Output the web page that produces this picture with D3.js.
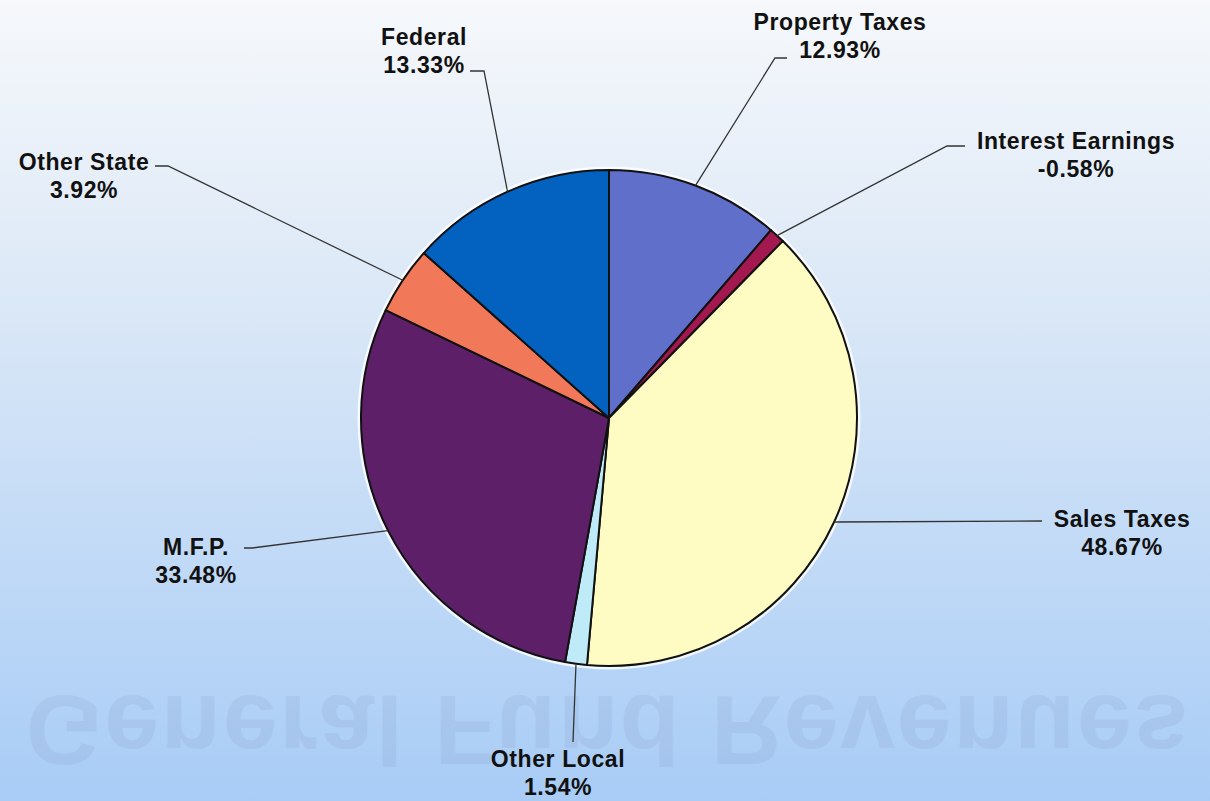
<!DOCTYPE html>
<html>
<head>
<meta charset="utf-8">
<script src="https://cdnjs.cloudflare.com/ajax/libs/d3/7.8.5/d3.min.js"></script>
<style>
  html, body { margin: 0; padding: 0; background: #dfe9f6; }
  #vis { width: 1210px; height: 801px; }
  text { font-family: "Liberation Sans", Arial, sans-serif; font-weight: bold; }
</style>
</head>
<body>
<div id="vis"></div>
<script>
// slice names, label percentages and slice shares (shares)
var categories = ['Property Taxes', 'Interest Earnings', 'Sales Taxes', 'Other Local', 'M.F.P.', 'Other State', 'Federal'];
var labelPercents = ['12.93%', '-0.58%', '48.67%', '1.54%', '33.48%', '3.92%', '13.33%'];
var shares = [11.33, 1.03, 39.06, 1.42, 29.33, 4.42, 13.42];
var colors = ['#5f6fca', '#a3194f', '#fefcc2', '#bfeaf8', '#5d1f68', '#f2785a', '#0361bf'];

// where each label sits
var labelLayout = [
    { x: 840, y: 30 },
    { x: 1076, y: 149 },
    { x: 1122, y: 527 },
    { x: 558, y: 767 },
    { x: 196, y: 555 },
    { x: 84, y: 170 },
    { x: 424, y: 45 }
];
// leader line end points near each label
var leaderEnds = [
    [[787, 58], [775, 58]],
    [[965, 146], [947, 146]],
    [[1042, 521], [1042, 521]],
    [[573, 742], [573, 742]],
    [[244, 548], [252, 548]],
    [[155, 166], [168, 166]],
    [[470, 71], [484, 71]]
];

var width = 1210, height = 801;
var cx = 609, cy = 418, radius = 248;

var svg = d3.select('#vis').append('svg')
    .attr('width', width)
    .attr('height', height);

// background gradient
var defs = svg.append('defs');
var grad = defs.append('linearGradient')
    .attr('id', 'bg')
    .attr('x1', 0).attr('y1', 0).attr('x2', 0).attr('y2', 1);
grad.append('stop').attr('offset', '0%').attr('stop-color', '#f6f8fb');
grad.append('stop').attr('offset', '35%').attr('stop-color', '#dde9f7');
grad.append('stop').attr('offset', '100%').attr('stop-color', '#a8ccf6');
svg.append('rect')
    .attr('width', width)
    .attr('height', height)
    .attr('fill', 'url(#bg)');

// faint bleed-through title, upside down
svg.append('text')
    .attr('transform', 'translate(608,696) scale(1,-1)')
    .attr('text-anchor', 'middle')
    .style('font-size', '98px')
    .style('letter-spacing', '2px')
    .attr('fill', '#8497c0')
    .attr('opacity', 0.16)
    .text('General Fund Revenues');

var pie = d3.pie().sort(null).value(function(d) { return d; });
var arcs = pie(shares);

var arc = d3.arc().innerRadius(0).outerRadius(radius);

var g = svg.append('g')
    .attr('transform', 'translate(' + cx + ',' + cy + ')');

// white halo round the pie
g.append('circle')
    .attr('r', radius + 2)
    .attr('fill', 'none')
    .attr('stroke', '#ffffff')
    .attr('stroke-width', 3)
    .attr('opacity', 0.8);

g.selectAll('path.slice')
    .data(arcs)
    .enter().append('path')
    .attr('class', 'slice')
    .attr('d', arc)
    .attr('fill', function(d, i) { return colors[i]; })
    .attr('stroke', '#111')
    .attr('stroke-width', 2)
    .attr('stroke-linejoin', 'round');

// leader lines
arcs.forEach(function(d, i) {
    var a = (d.startAngle + d.endAngle) / 2;
    var px = cx + radius * Math.sin(a);
    var py = cy - radius * Math.cos(a);
    var ends = leaderEnds[i];
    var pts = [[px, py], ends[1], ends[0]];
    svg.append('path')
        .attr('d', d3.line()(pts))
        .attr('fill', 'none')
        .attr('stroke', '#333')
        .attr('stroke-width', 1.3);
});

// labels
var labels = svg.selectAll('g.lbl')
    .data(categories)
    .enter().append('g')
    .attr('class', 'lbl')
    .attr('transform', function(d, i) { return 'translate(' + labelLayout[i].x + ',' + labelLayout[i].y + ')'; });

labels.append('text')
    .attr('text-anchor', 'middle')
    .style('font-size', '23px')
    .style('letter-spacing', '0.6px')
    .attr('fill', '#111')
    .text(function(d) { return d; });

labels.append('text')
    .attr('text-anchor', 'middle')
    .attr('y', 28)
    .style('font-size', '23px')
    .style('letter-spacing', '0.6px')
    .attr('fill', '#111')
    .text(function(d, i) { return labelPercents[i]; });
</script>
</body>
</html>
